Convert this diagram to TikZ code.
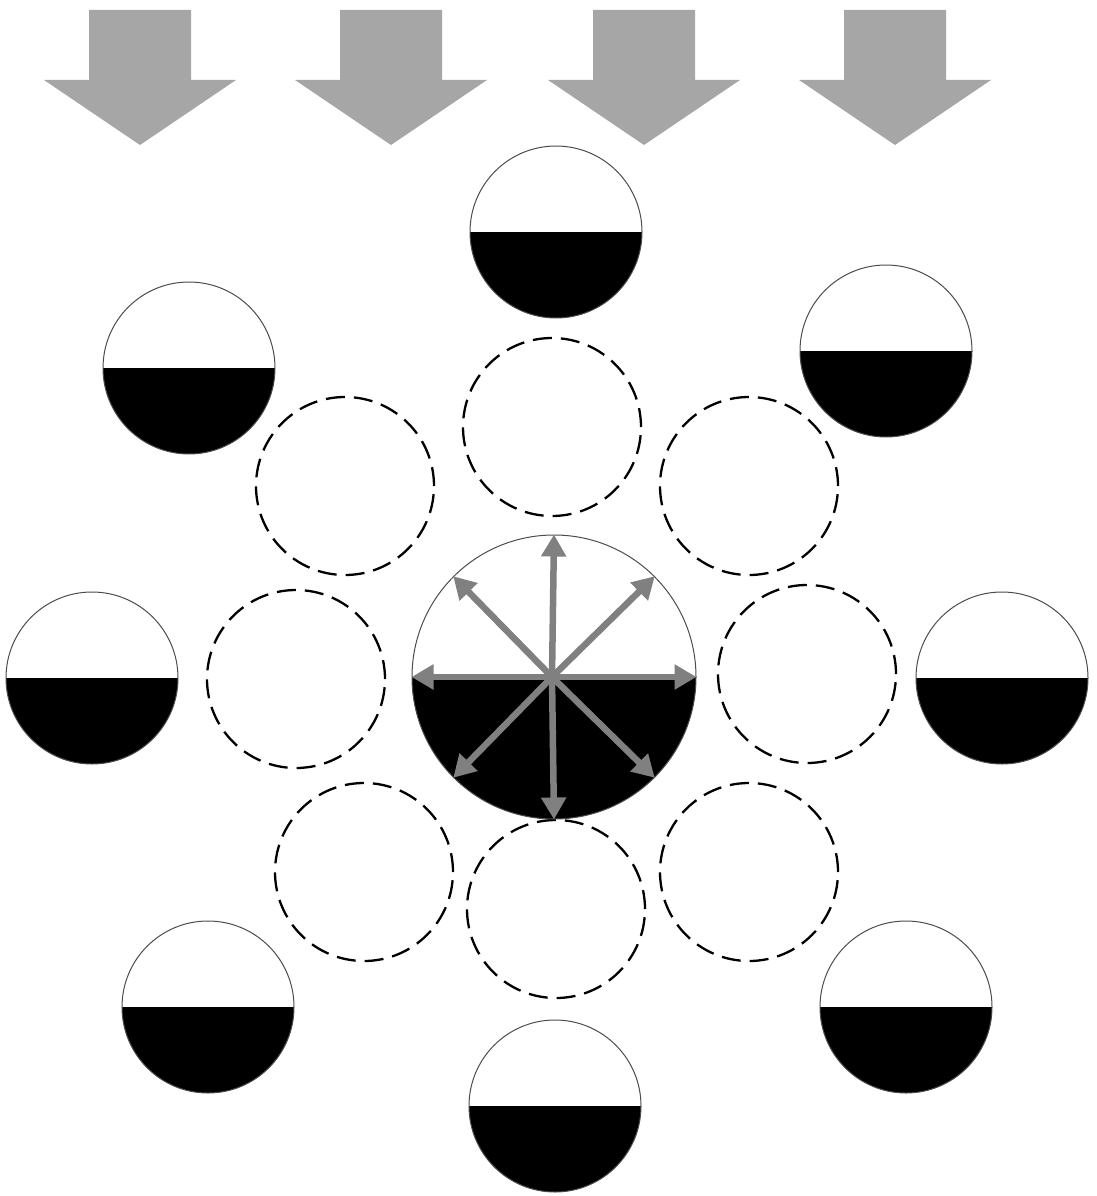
\documentclass[tikz,border=0pt]{standalone}
\usetikzlibrary{arrows.meta}
\definecolor{bigarrow}{HTML}{A6A6A6}
\definecolor{smallarrow}{HTML}{808080}
\tikzset{
  halfball/.style={circle, draw=black!70, line width=1pt, minimum size=172pt, inner sep=0pt,
    path picture={\fill[black] (path picture bounding box.west) rectangle (path picture bounding box.south east);}},
  bigball/.style={halfball, minimum size=284pt},
  ghost/.style={circle, draw=black, line width=2.3pt, dash pattern=on 19pt off 9pt, minimum size=178pt, inner sep=0pt},
  garrow/.style={draw=smallarrow, line width=6.5pt, -{Triangle[length=22pt,width=24pt]}, fill=smallarrow},
  flowarrow/.style={fill=bigarrow, draw=none}
}
\begin{document}
\begin{tikzpicture}[x=1pt,y=-1pt]
\useasboundingbox (0,0) rectangle (1097,1196);
% top flow arrows
\foreach \cx/\n in {140/a1,391/a2,644/a3,895/a4}{
  \fill[flowarrow] (\cx-51,10) -- (\cx+51,10) -- (\cx+51,80) -- (\cx+96,80) -- (\cx,145) -- (\cx-96,80) -- (\cx-51,80) -- cycle;
}
% outer half-filled circles
\node[halfball] (b1) at (556,232) {};
\node[halfball] (b2) at (189,368) {};
\node[halfball] (b3) at (886,351) {};
\node[halfball] (b4) at (92,678) {};
\node[halfball] (b5) at (1002,678) {};
\node[halfball] (b6) at (208,1007) {};
\node[halfball] (b7) at (906,1007) {};
\node[halfball] (b8) at (555,1106) {};
% dashed circles
\node[ghost] (d1) at (552,427) {};
\node[ghost] (d2) at (345,486) {};
\node[ghost] (d3) at (749,486) {};
\node[ghost] (d4) at (296,679) {};
\node[ghost] (d5) at (807,674) {};
\node[ghost] (d6) at (364,872) {};
\node[ghost] (d7) at (556,909) {};
\node[ghost] (d8) at (749,872) {};
% centre
\node[bigball] (c) at (554,677) {};
\coordinate (o) at (552,677);
\foreach \a in {0,45,90,135,180,225,270,315}{
  \draw[garrow] (o) -- (c.\a);
}
\end{tikzpicture}
\end{document}
